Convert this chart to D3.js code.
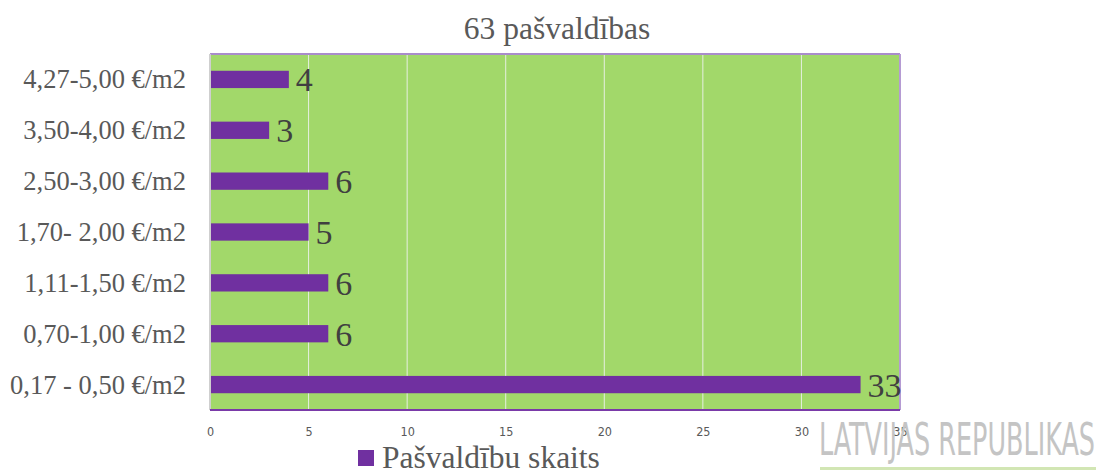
<!DOCTYPE html>
<html><head><meta charset="utf-8">
<script src="https://cdn.jsdelivr.net/npm/d3@7"></script>
<style>body{margin:0;background:#fff}svg{display:block}</style>
</head><body>
<svg id="c" width="1100" height="473"></svg>
<script>
const categories = ["4,27-5,00 €/m2","3,50-4,00 €/m2","2,50-3,00 €/m2","1,70- 2,00 €/m2","1,11-1,50 €/m2","0,70-1,00 €/m2","0,17 - 0,50 €/m2"];
const values = [4,3,6,5,6,6,33];
const xTicks = [0,5,10,15,20,25,30,35];
const title = "63 pašvaldības";
const seriesName = "Pašvaldību skaits";

const svg = d3.select("#c");
const L=210, R=900, T=54, B=410;
const x = d3.scaleLinear().domain([0,35]).range([L,R]);
const y = d3.scaleBand().domain(categories).range([T,B]).paddingInner(0.66).paddingOuter(0.33);

svg.append("rect").attr("x",L).attr("y",T).attr("width",R-L).attr("height",B-T).attr("fill","#a2d86a");
svg.append("g").selectAll("line").data(xTicks.filter(d=>d>0&&d<35)).join("line")
  .attr("x1",d=>x(d)).attr("x2",d=>x(d)).attr("y1",T).attr("y2",B)
  .attr("stroke","#e6efe0").attr("stroke-width",1);
// borders
svg.append("line").attr("x1",L).attr("x2",R).attr("y1",T).attr("y2",T).attr("stroke","#a98ccb").attr("stroke-width",2);
svg.append("line").attr("x1",R).attr("x2",R).attr("y1",T).attr("y2",B).attr("stroke","#b59bd3").attr("stroke-width",2);
svg.append("line").attr("x1",L).attr("x2",L).attr("y1",T).attr("y2",B).attr("stroke","#cfcfcf").attr("stroke-width",2);
svg.append("line").attr("x1",L).attr("x2",R).attr("y1",B).attr("y2",B).attr("stroke","#7a3aa8").attr("stroke-width",2);

svg.append("g").selectAll("rect").data(values).join("rect")
  .attr("x",x(0)+1).attr("y",(d,i)=>y(categories[i]))
  .attr("width",d=>x(d)-x(0)-1).attr("height",y.bandwidth())
  .attr("fill","#7030a0");

svg.append("g").selectAll("text").data(values).join("text")
  .attr("x",d=>x(d)+7).attr("y",(d,i)=>y(categories[i])+y.bandwidth()/2+12)
  .attr("font-family","Liberation Serif").attr("font-size",34).attr("fill","#404040")
  .text(d=>d);

svg.append("g").selectAll("text").data(categories).join("text")
  .attr("x",186).attr("y",d=>y(d)+y.bandwidth()/2+9)
  .attr("text-anchor","end").attr("font-family","Liberation Serif").attr("font-size",26.5).attr("fill","#595959")
  .text(d=>d);

const ax = svg.append("g").attr("transform",`translate(0,${B})`)
  .call(d3.axisBottom(x).tickValues(xTicks).tickSize(0).tickPadding(17));
ax.select(".domain").remove();
ax.selectAll("text").attr("font-family","DejaVu Sans Condensed, Liberation Sans Narrow, sans-serif").attr("font-size",12.5).attr("fill","#595959");

svg.append("text").attr("x",557).attr("y",39).attr("text-anchor","middle")
  .attr("font-family","Liberation Serif").attr("font-size",31.5).attr("fill","#595959").text(title);

svg.append("rect").attr("x",358).attr("y",450).attr("width",16).attr("height",16).attr("fill","#7030a0");
svg.append("text").attr("x",382).attr("y",468).attr("font-family","Liberation Serif").attr("font-size",31.5).attr("fill","#595959").text(seriesName);

// watermark
svg.append("text").attr("x",819).attr("y",455).attr("font-family","Liberation Sans Narrow, DejaVu Sans Condensed, sans-serif")
  .attr("font-size",44).attr("fill","#c4c4c4").attr("textLength",276).attr("lengthAdjust","spacingAndGlyphs")
  .text("LATVIJAS REPUBLIKAS");
svg.append("rect").attr("x",820).attr("y",467).attr("width",276).attr("height",3).attr("fill","#d2e6b4");
</script>
</body></html>
